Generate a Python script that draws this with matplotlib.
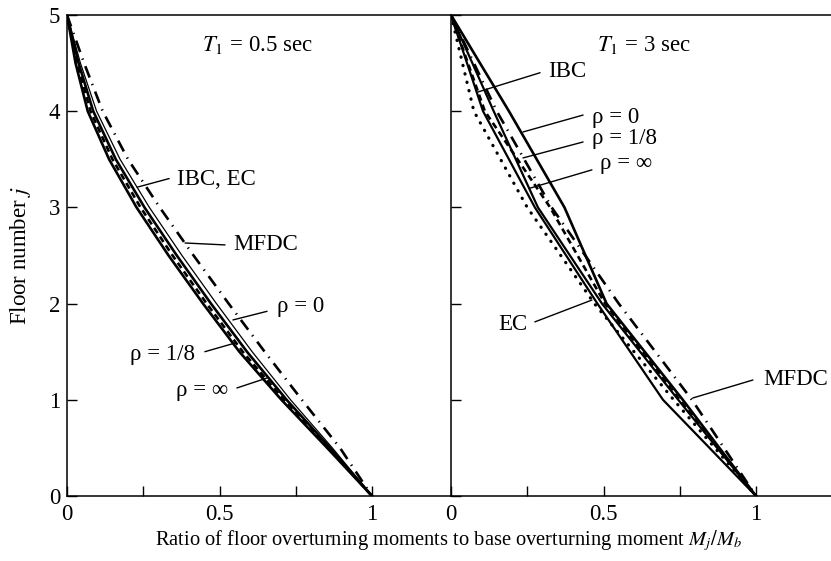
import numpy as np
import matplotlib
matplotlib.use("Agg")
import matplotlib.pyplot as plt

plt.rcParams["font.family"] = ["Liberation Serif", "DejaVu Serif"]
plt.rcParams["mathtext.fontset"] = "stix"

# ============================================================
# DATA
# ============================================================

# left panel, T1 = 0.5 sec
floors_a = [5, 4.5, 4, 3.5, 3, 2.5, 2, 1.5, 1, 0.5, 0]
a_rho_inf = [0, 0.028, 0.068, 0.138, 0.228, 0.333, 0.446, 0.565, 0.703, 0.853, 1]
a_rho_18 = [0, 0.033, 0.077, 0.149, 0.241, 0.346, 0.458, 0.576, 0.711, 0.858, 1]
a_ibc_ec = [0, 0.038, 0.086, 0.160, 0.254, 0.360, 0.472, 0.590, 0.720, 0.863, 1]
a_rho_0 = [0, 0.044, 0.097, 0.174, 0.270, 0.377, 0.490, 0.607, 0.733, 0.870, 1]
a_mfdc = [0, 0.056, 0.117, 0.200, 0.304, 0.415, 0.530, 0.648, 0.770, 0.895, 1]

# right panel, T1 = 3 sec
floors_b = [5, 4, 3, 2, 1, 0]
b_ibc = [0, 0.105, 0.275, 0.480, 0.695, 1]
b_ec = [0, 0.075, 0.250, 0.470, 0.730, 1]
b_rho_0 = [0, 0.190, 0.372, 0.510, 0.760, 1]
b_rho_18 = [0, 0.111, 0.325, 0.505, 0.750, 1]
b_rho_inf = [0, 0.140, 0.285, 0.495, 0.745, 1]
b_mfdc = [0, 0.150, 0.330, 0.550, 0.790, 1]

x_ticks = [0, 0.5, 1]
x_ticklabels = ["0", "0.5", "1"]
y_ticks = [0, 1, 2, 3, 4, 5]

# ============================================================
# STYLES
# ============================================================

THICK = 1.9
THIN = 0.9
DASHED = (0, (2.4, 1.6))
DASHDOT = (0, (4.6, 2.6, 0.5, 2.6))
DOTTED = (0, (0.1, 2.6))
FS = 16.5


def style_axes(ax, xmax, show_ylabels):
    ax.set_xlim(0, xmax)
    ax.set_ylim(0, 5)
    ax.set_xticks(x_ticks)
    ax.set_xticklabels(x_ticklabels)
    ax.set_xticks([0.25, 0.75], minor=True)
    ax.set_yticks(y_ticks)
    if not show_ylabels:
        ax.set_yticklabels([])
    ax.tick_params(which="both", direction="in", length=7, width=1.0,
                   labelsize=FS, top=False, right=False, pad=6)
    ax.tick_params(axis="y", pad=5)
    for s in ax.spines.values():
        s.set_linewidth(1.1)


def label(ax, text, xy, xytext, tpos, ha="left"):
    ax.annotate("", xy=xy, xytext=xytext,
                arrowprops=dict(arrowstyle="-", lw=1.0, color="black",
                                shrinkA=0, shrinkB=0))
    ax.text(tpos[0], tpos[1], text, ha=ha, va="center", fontsize=FS)


# ============================================================
# FIGURE
# ============================================================

fig = plt.figure(figsize=(8.31, 5.61), dpi=100)
W, H = 831, 561
ax1 = fig.add_axes([67 / W, 1 - 496 / H, 384 / W, 481 / H])
ax2 = fig.add_axes([451 / W, 1 - 496 / H, 380 / W, 481 / H])

# left panel
ax1.plot(a_rho_inf, floors_a, color="black", lw=THICK)
ax1.plot(a_rho_18, floors_a, color="black", lw=THICK, linestyle=DASHED)
ax1.plot(a_ibc_ec, floors_a, color="black", lw=THICK)
ax1.plot(a_rho_0, floors_a, color="black", lw=THIN)
ax1.plot(a_mfdc, floors_a, color="black", lw=THICK, linestyle=DASHDOT)
style_axes(ax1, 384 / 305, True)
ax1.spines["right"].set_visible(False)

ax1.text(0.626, 4.69, r"$T_1$ = 0.5 sec", ha="center", va="center", fontsize=FS)
label(ax1, "IBC, EC", (0.23, 3.21), (0.335, 3.30), (0.36, 3.29))
label(ax1, "MFDC", (0.387, 2.63), (0.518, 2.61), (0.544, 2.61))
label(ax1, "ρ = 0", (0.544, 1.83), (0.656, 1.92), (0.689, 1.965))
label(ax1, "ρ = 1/8", (0.551, 1.59), (0.452, 1.50), (0.42, 1.466), ha="right")
label(ax1, "ρ = ∞", (0.656, 1.227), (0.557, 1.123), (0.528, 1.10), ha="right")

# right panel
ax2.plot(b_ibc, floors_b, color="black", lw=1.6)
ax2.plot(b_ec, floors_b, color="black", lw=2.3, linestyle=DOTTED,
         dash_capstyle="round")
ax2.plot(b_rho_0, floors_b, color="black", lw=THICK)
ax2.plot(b_rho_18, floors_b, color="black", lw=THICK, linestyle=DASHED)
ax2.plot(b_rho_inf, floors_b, color="black", lw=1.6)
ax2.plot(b_mfdc, floors_b, color="black", lw=THICK, linestyle=DASHDOT)
style_axes(ax2, 380 / 305, False)
ax2.spines["right"].set_visible(False)

ax2.text(0.633, 4.69, r"$T_1$ = 3 sec", ha="center", va="center", fontsize=FS)
label(ax2, "IBC", (0.0885, 4.20), (0.292, 4.40), (0.318, 4.41))
label(ax2, "ρ = 0", (0.236, 3.784), (0.433, 3.96), (0.462, 3.93))
label(ax2, "ρ = 1/8", (0.236, 3.514), (0.433, 3.68), (0.462, 3.72))
label(ax2, "ρ = ∞", (0.259, 3.20), (0.462, 3.39), (0.489, 3.46))
label(ax2, "EC", (0.462, 2.037), (0.275, 1.81), (0.249, 1.78), ha="right")
label(ax2, "MFDC", (0.793, 1.019), (0.99, 1.206), (1.023, 1.206))

ax1.set_ylabel(r"Floor number $j$", fontsize=FS, labelpad=11)
fig.text(449 / W, 1 - 541 / H,
         r"Ratio of floor overturning moments to base overturning moment $M_j/M_b$",
         ha="center", va="center", fontsize=14.8)

fig.savefig("out.png", dpi=100)
